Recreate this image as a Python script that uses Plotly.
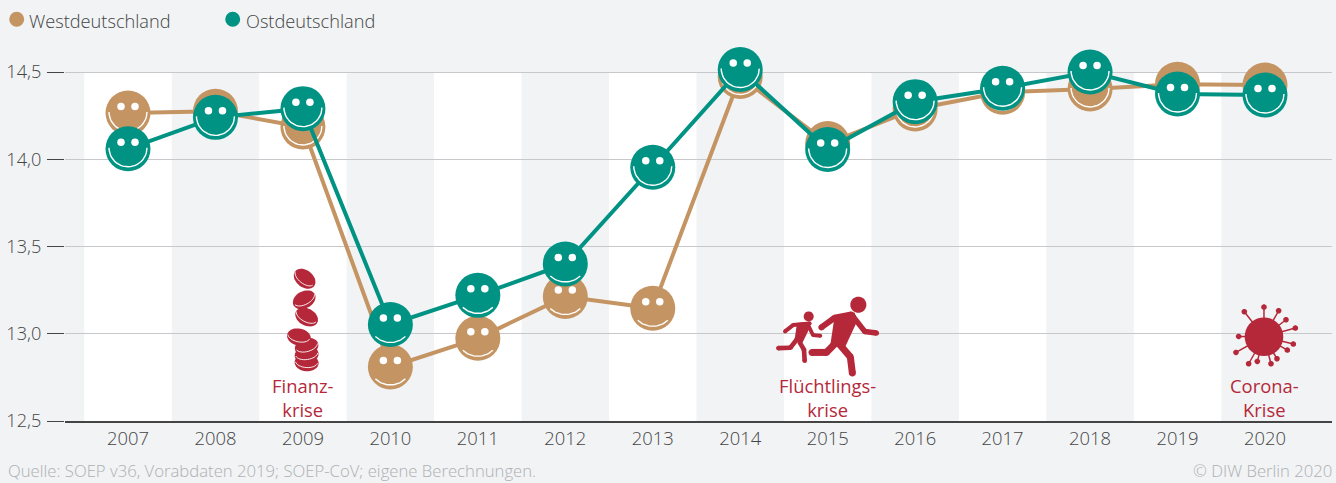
import math
import plotly.graph_objects as go

years = list(range(2007, 2021))
west = [14.265, 14.275, 14.185, 12.81, 12.974, 13.213, 13.146, 14.474, 14.09, 14.288, 14.384, 14.403, 14.43, 14.425]
east = [14.06, 14.24, 14.29, 13.053, 13.22, 13.40, 13.954, 14.514, 14.056, 14.33, 14.407, 14.50, 14.374, 14.368]
y_ticks = [12.5, 13.0, 13.5, 14.0, 14.5]
WEST_NAME, EAST_NAME = "Westdeutschland", "Ostdeutschland"
SOURCE = "Quelle: SOEP v36, Vorabdaten 2019; SOEP-CoV; eigene Berechnungen."
COPYRIGHT = "© DIW Berlin 2020"
crises = [(2009, "Finanz-<br>krise"), (2015, "Flüchtlings-<br>krise"), (2020, "Corona-<br>Krise")]

W, H = 1336, 483
L, R, T, B = 65, 1332, 0, 421
WEST_C, EAST_C, RED = "#c49463", "#009384", "#b5283a"
BG, GRID, AXIS, TXT = "#f1f3f5", "#c8c8cc", "#444444", "#444444"
FONT = "Open Sans"
WEIGHT = 300

PX = 87.46  # px per year
PY = 174.5  # px per y unit
X0 = 2007 - (128 - L) / PX
X1 = 2007 + (R - 128) / PX
Y_TOP = 12.5 + (B - T) / PY
SMILE_SPLIT = 13.5

def face_traces(vals):
    ex, ey, sx, sy = [], [], [], []
    for yr, v in zip(years, vals):
        for d in (-7, 7):
            ex.append(yr + d / PX)
            ey.append(v + 6.5 / PY)
        if v > SMILE_SPLIT:
            r, cy, a0 = 19, -1, 0
        else:
            r, cy = 21.75, -3.75
            a0 = math.degrees(math.asin(15.75 / r))
        n = 24
        for i in range(n + 1):
            a = math.radians(a0 + (180 - 2 * a0) * i / n)
            sx.append(yr + r * math.cos(a) / PX)
            sy.append(v - (cy + r * math.sin(a)) / PY)
        sx.append(None)
        sy.append(None)
    return [
        go.Scatter(x=ex, y=ey, mode="markers", marker=dict(size=7.5, color="white"),
                   hoverinfo="skip", showlegend=False, cliponaxis=False),
        go.Scatter(x=sx, y=sy, mode="lines", line=dict(color="white", width=1.4),
                   hoverinfo="skip", showlegend=False, cliponaxis=False),
    ]

fig = go.Figure()
for name, vals, col in [(WEST_NAME, west, WEST_C), (EAST_NAME, east, EAST_C)]:
    fig.add_trace(go.Scatter(x=years, y=vals, name=name, mode="lines+markers",
                             line=dict(color=col, width=4),
                             marker=dict(size=45, color=col),
                             cliponaxis=False, showlegend=False))
    for t in face_traces(vals):
        fig.add_trace(t)

shapes = []
# alternating bands
for i, yr in enumerate(years):
    if i % 2 == 0:
        shapes.append(dict(type="rect", layer="below", xref="x", yref="y",
                           x0=yr - 0.5, x1=yr + 0.5, y0=12.5, y1=14.5,
                           fillcolor="white", line_width=0))

def path_from(pts):
    return "M" + "L".join(f"{x:.2f},{-y:.2f}" for x, y in pts) + "Z"

def poly(year, pts, color=RED):
    shapes.append(dict(type="path", xref="x", yref="y", xsizemode="pixel", ysizemode="pixel",
                       xanchor=year, yanchor=13.0, path=path_from(pts),
                       fillcolor=color, line_width=0, layer="above"))

def ell_pts(cx, cy, a, b, rot, t0=0.0, t1=360.0, n=36):
    c, s = math.cos(math.radians(rot)), math.sin(math.radians(rot))
    out = []
    for i in range(n + 1):
        t = math.radians(t0 + (t1 - t0) * i / n)
        x, y = a * math.cos(t), b * math.sin(t)
        out.append((cx + x * c - y * s, cy + x * s + y * c))
    return out

def stroke(year, pts, w, color=RED):
    for p in pts:
        poly(year, ell_pts(p[0], p[1], w / 2, w / 2, 0, n=16), color)
    for (x0, y0), (x1, y1) in zip(pts, pts[1:]):
        d = math.hypot(x1 - x0, y1 - y0) or 1
        nx, ny = -(y1 - y0) / d * w / 2, (x1 - x0) / d * w / 2
        poly(year, [(x0 + nx, y0 + ny), (x1 + nx, y1 + ny), (x1 - nx, y1 - ny), (x0 - nx, y0 - ny)], color)

# coins (decorative icon, pixels around the 2009 / 13.0 anchor)
for cx, cy, rot in [(3.7, 29, 4), (3.7, 21, -8), (3.7, 13, -16), (-4, 3.3, 12),
                    (3.7, -16.7, 28), (1.3, -34, -28), (1.7, -55, 38)]:
    poly(2009, ell_pts(cx, cy, 12.0, 8.5, rot))
    shapes.append(dict(type="path", xref="x", yref="y", xsizemode="pixel", ysizemode="pixel",
                       xanchor=2009, yanchor=13.0,
                       path="M" + "L".join(f"{x:.2f},{-y:.2f}" for x, y in
                                           ell_pts(cx, cy - 1.2, 11.2, 6.0, rot, 10, 170, 16)),
                       line=dict(color="white", width=0.9), layer="above"))

# runners (decorative icon, anchored at 2015 / 13.0)
def rz(pts):
    return [(x / 3 - 68, y / 3 - 54) for x, y in pts]
poly(2015, ell_pts(*rz([(296, 75)])[0], 8, 8, 0))
stroke(2015, rz([(185, 143), (225, 114), (275, 104)]), 6)
stroke(2015, rz([(280, 110), (315, 155), (350, 160)]), 5.5)
poly(2015, rz([(225, 108), (285, 98), (292, 125), (255, 205), (212, 195)]))
stroke(2015, rz([(238, 192), (272, 232), (278, 280)]), 7)
stroke(2015, rz([(228, 190), (200, 218), (157, 218)]), 7)
poly(2015, ell_pts(*rz([(147, 110)])[0], 5, 5, 0))
stroke(2015, rz([(76, 155), (100, 136), (150, 131)]), 4)
stroke(2015, rz([(145, 135), (160, 166), (182, 168)]), 3.8)
poly(2015, rz([(112, 130), (150, 126), (152, 140), (128, 190), (105, 178)]))
stroke(2015, rz([(120, 188), (133, 210), (135, 243)]), 4.6)
stroke(2015, rz([(112, 178), (92, 204), (56, 205)]), 4.6)

# virus (decorative icon, anchored at 2020 / 13.0)
def vz(p):
    return (p[0] / 3 - 75, p[1] / 3 - 44)
vc = vz((222, 141))
for tip in [(222, 52), (163, 66), (266, 63), (288, 90), (316, 115), (310, 163), (292, 181),
            (261, 207), (243, 222), (202, 215), (176, 222), (138, 188), (146, 140)]:
    t = vz(tip)
    stroke(2020, [vc, t], 1.5)
    poly(2020, ell_pts(t[0], t[1], 2.8, 2.8, 0, n=14))
poly(2020, ell_pts(vc[0], vc[1], 19.3, 19.3, 0))

# legend dots
for lx, col in [(16.7, WEST_C), (232.7, EAST_C)]:
    shapes.append(dict(type="circle", xref="paper", yref="paper", xsizemode="pixel", ysizemode="pixel",
                       xanchor=(lx - L) / (R - L), yanchor=(B - 19.3) / (B - T),
                       x0=-7.5, x1=7.5, y0=-7.5, y1=7.5, fillcolor=col, line_width=0))

annotations = []
def paper_text(px, py, text, anchor, size, color):
    annotations.append(dict(xref="paper", yref="paper", x=(px - L) / (R - L), y=(B - py) / (B - T),
                            text=text, showarrow=False, xanchor=anchor, yanchor="middle",
                            borderpad=0, borderwidth=0,
                            font=dict(family=FONT, size=size, color=color, weight=WEIGHT)))
paper_text(28.5, 21, WEST_NAME, "left", 18.2, TXT)
paper_text(246, 21, EAST_NAME, "left", 18.2, TXT)
paper_text(8, 470.5, SOURCE, "left", 16.7, "#aeb0b3")
paper_text(1332, 470.5, COPYRIGHT, "right", 16.7, "#aeb0b3")
for yr, label in crises:
    annotations.append(dict(xref="x", yref="y", x=yr, y=12.637, text=label, showarrow=False,
                            yanchor="middle", xanchor="center",
                            font=dict(family=FONT, size=18.4, color=RED)))

fig.update_layout(
    width=W, height=H, autosize=False,
    margin=dict(l=L, r=W - R, t=T, b=H - B, pad=0),
    paper_bgcolor=BG, plot_bgcolor="rgba(0,0,0,0)",
    font=dict(family=FONT, size=18.2, color=TXT),
    separators=",.", showlegend=False,
    shapes=shapes, annotations=annotations,
    xaxis=dict(range=[X0, X1], tickmode="array", tickvals=years, ticks="", showgrid=False,
               zeroline=False, showline=True, linecolor=AXIS, linewidth=1.5,
               ticklabelstandoff=0, tickfont=dict(family=FONT, size=18.4, color=TXT, weight=WEIGHT)),
    yaxis=dict(range=[12.5, Y_TOP], tickmode="array", tickvals=y_ticks, tickformat=".1f",
               ticks="outside", ticklen=17, tickcolor=AXIS, tickwidth=1,
               showgrid=True, gridcolor=GRID, gridwidth=1, zeroline=False, showline=False,
               ticklabelstandoff=2, tickfont=dict(family=FONT, size=18.2, color=TXT, weight=WEIGHT)),
)
fig.write_html("out.html", config=dict(displayModeBar=False),
               post_script="document.body.style.margin='0';document.documentElement.style.background='%s';" % BG)
